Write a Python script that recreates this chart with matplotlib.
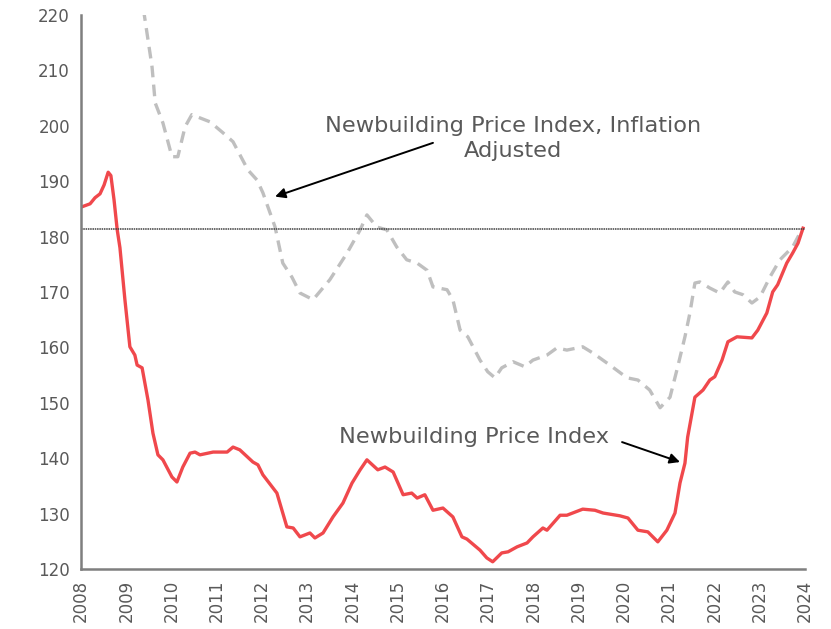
import numpy as np
import matplotlib
matplotlib.use("Agg")
import matplotlib.pyplot as plt

# Newbuilding price index (red, solid)
nb_years = [2008.00, 2008.20, 2008.31, 2008.42, 2008.51, 2008.60, 2008.66, 2008.73, 2008.80, 2008.86,
            2008.97, 2009.08, 2009.19, 2009.24, 2009.35, 2009.48, 2009.59, 2009.70, 2009.81, 2010.01,
            2010.12, 2010.25, 2010.41, 2010.52, 2010.63, 2010.92, 2011.23, 2011.36, 2011.51, 2011.80,
            2011.91, 2012.02, 2012.33, 2012.55, 2012.69, 2012.84, 2013.06, 2013.17, 2013.35, 2013.57,
            2013.79, 2013.99, 2014.17, 2014.32, 2014.56, 2014.72, 2014.90, 2015.12, 2015.31, 2015.43,
            2015.60, 2015.78, 2016.00, 2016.22, 2016.42, 2016.53, 2016.82, 2016.97, 2017.10, 2017.30,
            2017.44, 2017.64, 2017.86, 2017.99, 2018.21, 2018.30, 2018.59, 2018.74, 2019.09, 2019.36,
            2019.54, 2019.91, 2020.09, 2020.31, 2020.53, 2020.75, 2020.95, 2021.13, 2021.24, 2021.35,
            2021.41, 2021.57, 2021.75, 2021.90, 2022.01, 2022.17, 2022.30, 2022.50, 2022.83, 2022.96,
            2023.16, 2023.29, 2023.40, 2023.60, 2023.73, 2023.85, 2023.96]
nb_index = [185.3, 185.9, 187.0, 187.7, 189.3, 191.6, 191.0, 186.6, 181.2, 178.0,
            168.6, 160.1, 158.6, 156.8, 156.3, 150.5, 144.5, 140.6, 139.7, 136.6,
            135.7, 138.4, 140.9, 141.1, 140.6, 141.1, 141.1, 142.0, 141.5, 139.3,
            138.8, 137.0, 133.7, 127.6, 127.4, 125.8, 126.5, 125.6, 126.5, 129.4,
            131.9, 135.5, 137.9, 139.7, 137.9, 138.4, 137.5, 133.4, 133.7, 132.8,
            133.4, 130.6, 131.0, 129.4, 125.8, 125.4, 123.4, 122.0, 121.3, 122.9,
            123.1, 124.0, 124.7, 125.8, 127.4, 127.0, 129.7, 129.7, 130.8, 130.6,
            130.1, 129.6, 129.2, 127.0, 126.7, 124.9, 127.0, 130.1, 135.5, 139.1,
            143.8, 151.0, 152.3, 154.1, 154.7, 157.7, 161.0, 161.9, 161.7, 163.1,
            166.2, 170.0, 171.3, 175.2, 177.0, 178.8, 181.5]

# Inflation adjusted index (grey, dashed)
adj_years = [2009.38, 2009.57, 2009.64, 2009.81, 2010.01, 2010.14, 2010.30, 2010.45, 2010.63, 2010.85,
             2011.14, 2011.36, 2011.69, 2011.89, 2012.02, 2012.29, 2012.46, 2012.66, 2012.84, 2013.13,
             2013.50, 2013.88, 2014.17, 2014.32, 2014.54, 2014.76, 2014.98, 2015.20, 2015.43, 2015.65,
             2015.78, 2016.09, 2016.22, 2016.38, 2016.55, 2016.82, 2016.99, 2017.15, 2017.30, 2017.55,
             2017.81, 2017.99, 2018.30, 2018.52, 2018.74, 2019.09, 2019.31, 2019.69, 2020.07, 2020.31,
             2020.57, 2020.80, 2021.02, 2021.19, 2021.35, 2021.46, 2021.57, 2021.68, 2021.90, 2022.12,
             2022.30, 2022.45, 2022.63, 2022.83, 2023.01, 2023.23, 2023.45, 2023.73, 2023.93]
adj_index = [221.0, 210.6, 204.1, 200.5, 194.4, 194.4, 199.8, 202.0, 201.4, 200.7,
             198.7, 197.1, 192.0, 190.2, 187.9, 181.7, 175.2, 172.7, 169.8, 168.6,
             172.2, 177.0, 181.2, 183.9, 181.7, 181.2, 178.1, 175.8, 175.2, 173.9,
             170.9, 170.4, 168.6, 163.1, 161.9, 157.7, 155.6, 154.5, 156.3, 157.4,
             156.5, 157.7, 158.6, 159.9, 159.5, 160.1, 159.0, 156.8, 154.5, 154.1,
             152.3, 149.1, 151.0, 156.5, 161.9, 166.2, 171.6, 171.8, 170.7, 169.8,
             171.8, 170.0, 169.5, 168.0, 169.1, 172.7, 175.8, 178.1, 181.2]

current_level = 181.4
year_ticks = list(range(2008, 2025))
y_ticks = list(range(120, 221, 10))

text_color = '#595959'

fig = plt.figure(figsize=(8.31, 6.29), dpi=100)
ax = fig.add_axes([0.0975, 0.0954, 0.871, 0.881])

ax.plot(adj_years, adj_index, color='#BFBFBF', lw=2.4, ls=(0, (3.5, 2.2)))
ax.plot(nb_years, nb_index, color='#F0484C', lw=2.4)
ax.axhline(current_level, color='#404040', lw=1.1, ls=(0, (1, 0.5)))

ax.set_xlim(2008, 2024)
ax.set_ylim(120, 220)
ax.set_xticks(year_ticks)
ax.set_xticklabels([str(y) for y in year_ticks], rotation=90)
ax.set_yticks(y_ticks)
ax.tick_params(length=0, labelsize=12, colors=text_color, pad=8)

for s in ['top', 'right']:
    ax.spines[s].set_visible(False)
for s in ['left', 'bottom']:
    ax.spines[s].set_color('#7F7F7F')
    ax.spines[s].set_linewidth(1.8)

# labels
ax.text(2017.55, 197.7, 'Newbuilding Price Index, Inflation\nAdjusted',
        ha='center', va='center', fontsize=16.2, color=text_color, linespacing=1.35)
ax.text(2016.69, 143.8, 'Newbuilding Price Index',
        ha='center', va='center', fontsize=16.2, color=text_color)

# arrows
arrow_kw = dict(arrowstyle='-|>', color='black', lw=1.4, shrinkA=0, shrinkB=0, mutation_scale=15)
ax.annotate('', xy=(2012.29, 187.2), xytext=(2015.78, 196.9), arrowprops=arrow_kw)
ax.annotate('', xy=(2021.24, 139.3), xytext=(2019.96, 142.9), arrowprops=arrow_kw)

fig.savefig('out.png', dpi=100)
